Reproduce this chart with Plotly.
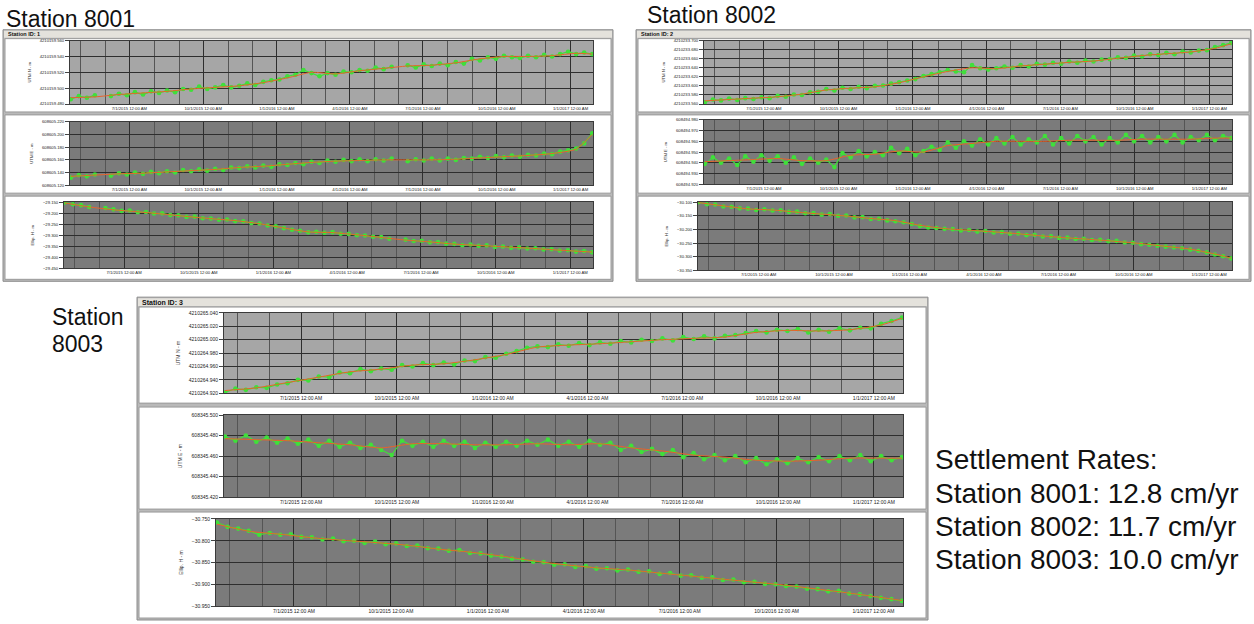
import plotly.graph_objects as go
import pandas as pd

W, H = 1254, 624

# ---------------- data (values in mm relative to panel base) ----------------
DATES = pd.date_range("2015-04-19", periods=66, freq="10D")
TREND_IDX = list(range(0, 66, 3)) + [65]

XTICK_VALS = ["2015-07-01", "2015-10-01", "2016-01-01", "2016-04-01",
              "2016-07-01", "2016-10-01", "2017-01-01"]
XTICK_TEXT = ["7/1/2015 12:00 AM", "10/1/2015 12:00 AM", "1/1/2016 12:00 AM",
              "4/1/2016 12:00 AM", "7/1/2016 12:00 AM", "10/1/2016 12:00 AM",
              "1/1/2017 12:00 AM"]
XRANGE = ["2015-04-18", "2017-01-29"]

# Station 8001
S1N_BASE, S1E_BASE, S1H_BASE = 4210159.480, 608605.120, -29.150
S1N_G = [6,10,8,11,None,10,13,11,15,12, 16,14,17,15,19,18,22,19,21,24,
         21,23,26,24,28,30,31,35,37,43, 39,35,39,37,41,40,43,42,46,44,
         47,None,49,46,50,48,51,49,53,51, 57,55,59,57,61,59,58,61,59,62,
         60,63,66,63,65,63]
S1N_T = [8,9,12,14,16,19,21,23,27,33,40,38,42,45,48,49,52,57,60,60,61,64,63]
S1E_G = [12,16,14,17,None,15,19,17,20,18, 21,19,22,20,24,22,25,23,26,24,
         28,27,30,28,31,29,33,32,35,33, 37,35,39,37,40,38,41,38,41,39,
         42,None,38,41,39,42,39,42,40,43, 42,45,43,46,44,47,45,48,47,50,
         49,53,55,58,66,82]
S1E_T = [14,16,18,19,21,23,25,28,30,33,36,38,39,40,40,40,41,43,45,47,50,57,80]
S1H_G = [-2,-10,-14,-22,None,-27,-33,-40,-38,-46, -45,-52,-51,-59,-60,-67,-66,-73,-74,-80,
         -79,-86,-87,-95,-97,-106,-109,-118,-125,-130, -137,-134,-139,-136,-143,-144,-150,-151,-157,-158,
         -166,None,-170,-176,-175,-182,-181,-188,-189,-195, -192,-198,-196,-203,-201,-207,-205,-210,-209,-214,
         -213,-219,-218,-224,-221,-227]
S1H_T = [-4,-22,-35,-44,-54,-65,-75,-84,-98,-117,-135,-138,-148,-160,-172,-180,-190,-196,-202,-208,-215,-222,-226]

# Station 8002
S2N_BASE, S2E_BASE, S2H_BASE = 4210233.560, 608494.920, -30.100
S2N_G = [4,10,8,12,9,13,11,15,13,18, 16,21,20,26,27,33,30,36,33,38,
         35,40,41,45,48,52,55,62,66,70, 75,72,70,86,79,76,79,83,80,86,
         83,89,87,91,89,94,91,96,94,98, 99,103,102,107,105,110,108,113,110,116,
         114,118,119,126,130,135]
S2N_T = [7,10,13,16,22,31,35,38,47,60,72,80,78,84,88,92,95,101,107,111,115,123,133]
S2E_G = [19,25,20,24,18,26,21,27,22,26, 20,25,19,24,20,23,16,29,25,31,
         26,30,27,34,29,33,27,31,35,32, 39,34,40,36,42,37,43,38,44,37,
         42,39,45,37,43,38,45,40,44,37, 43,39,46,40,45,39,44,40,46,39,
         44,41,46,41,45,43]
S2E_T = [21,22,23,24,22,22,27,28,31,30,36,38,40,40,40,41,41,41,42,42,42,43,43]
S2H_G = [0,-8,-9,-16,-17,-23,-24,-29,-26,-31, -30,-36,-35,-41,-40,-46,-44,-50,-49,-56,
         -55,-62,-61,-67,-70,-74,-80,-88,-93,-95, -98,-99,-104,-102,-108,-106,-111,-110,-116,-115,
         -121,-120,-126,-125,-131,-130,-135,-134,-139,-138, -143,-142,-148,-149,-154,-156,-160,-163,-166,-169,
         -174,-178,-184,-192,-198,-206]
S2H_T = [-2,-14,-25,-29,-37,-44,-51,-60,-68,-85,-97,-103,-109,-116,-124,-131,-137,-144,-152,-162,-172,-190,-205]

# Station 8003
S3N_BASE, S3E_BASE, S3H_BASE = 4210264.920, 608345.420, -30.750
S3N_G = [1,7,5,9,8,13,15,20,19,25, 24,31,30,36,33,37,35,42,40,45,
         42,46,43,49,48,54,53,59,63,68, 70,69,73,71,75,72,76,74,78,76,
         80,78,82,79,84,81,85,82,86,87, 90,93,91,95,93,96,91,95,92,97,
         94,98,97,104,108,113]
S3N_T = [4,8,16,24,32,36,42,44,50,58,69,72,74,77,80,82,84,91,94,93,95,102,112]
S3E_G = [59,55,60,54,58,53,57,52,56,50, 55,49,53,48,51,46,41,55,50,54,
         49,55,50,54,48,53,49,54,50,55, 51,56,50,54,49,55,51,53,46,50,
         44,47,42,46,39,43,37,41,36,40, 34,38,32,37,33,38,34,39,35,40,
         36,41,35,40,36,39]
S3E_T = [57,56,55,53,51,48,52,52,51,51,52,51,52,48,45,41,39,36,35,36,38,38,38]
S3H_G = [-8,-18,-22,-27,-36,-32,-36,-35,-41,-42, -47,-45,-51,-50,-55,-52,-58,-56,-62,-61,
         -67,-68,-73,-71,-78,-79,-84,-86,-91,-93, -98,-99,-105,-104,-110,-108,-114,-113,-118,-116,
         -121,-120,-126,-124,-130,-129,-135,-134,-140,-139, -145,-144,-149,-150,-154,-155,-160,-161,-166,-165,
         -171,-173,-177,-181,-184,-188]
S3H_T = [-12,-28,-35,-43,-49,-54,-60,-69,-76,-85,-96,-105,-112,-117,-124,-131,-138,-145,-152,-161,-170,-180,-187]

RATE_LINES = ["Settlement Rates:", "Station 8001: 12.8 cm/yr",
              "Station 8002: 11.7 cm/yr", "Station 8003: 10.0 cm/yr"]

# ---------------- panel specs -------------
LIGHT, DARK = "#a6a6a6", "#7b7b7b"
PANELS = [
    (S1N_BASE, S1N_G, S1N_T, (0, 80), 20, "UTM N - m", (70, 593, 38, 102), LIGHT, 4.2),
    (S1E_BASE, S1E_G, S1E_T, (0, 100), 20, "UTM E - m", (70, 593, 120, 184), DARK, 4.2),
    (S1H_BASE, S1H_G, S1H_T, (-300, 0), 50, "Ellip. H - m", (64, 593, 201, 268), DARK, 4.2),
    (S2N_BASE, S2N_G, S2N_T, (0, 140), 20, "UTM N - m", (704, 1232, 38, 102), LIGHT, 4.2),
    (S2E_BASE, S2E_G, S2E_T, (0, 60), 10, "UTM E - m", (704, 1232, 118, 183), DARK, 4.2),
    (S2H_BASE, S2H_G, S2H_T, (-250, 0), 50, "Ellip. H - m", (698, 1232, 201, 270), DARK, 4.2),
    (S3N_BASE, S3N_G, S3N_T, (0, 120), 20, "UTM N - m", (224, 903, 313, 394), LIGHT, 5),
    (S3E_BASE, S3E_G, S3E_T, (0, 80), 20, "UTM E - m", (224, 903, 416, 499), DARK, 5),
    (S3H_BASE, S3H_G, S3H_T, (-200, 0), 50, "Ellip. H - m", (216, 903, 521, 609), DARK, 5),
]

FONT = "Arial, Liberation Sans, sans-serif"
GREEN = "#3fe03a"
ORANGE = "#e8632a"


def fx(p):
    return p / W


def fy(p):
    return 1 - p / H


fig = go.Figure()
shapes = []
annotations = []

FRAMES = [
    ((3, 613, 27, 281), 8, [(5, 611, 36, 110), (5, 611, 113, 192), (5, 611, 195, 279)], "Station ID: 1", 5.5),
    ((636, 1251, 27, 281), 8, [(638, 1249, 36, 110), (638, 1249, 113, 192), (638, 1249, 195, 279)], "Station ID: 2", 5.5),
    ((137, 928, 297, 623), 9, [(139, 926, 307, 404), (139, 926, 408, 511), (139, 926, 514, 621)], "Station ID: 3", 7),
]
for (l, r, t, b), hh, boxes, label, fs in FRAMES:
    shapes.append(dict(type="rect", xref="paper", yref="paper", x0=fx(l), x1=fx(r), y0=fy(b), y1=fy(t),
                       fillcolor="#b9b9b9", line=dict(color="#8c8c8c", width=1), layer="below"))
    shapes.append(dict(type="rect", xref="paper", yref="paper", x0=fx(l + 1), x1=fx(r - 1), y0=fy(t + hh), y1=fy(t + 1),
                       fillcolor="#e4e2dc", line=dict(width=0), layer="below"))
    for (bl, br, bt, bb) in boxes:
        shapes.append(dict(type="rect", xref="paper", yref="paper", x0=fx(bl), x1=fx(br), y0=fy(bb), y1=fy(bt),
                           fillcolor="white", line=dict(color="#9a9a9a", width=1), layer="below"))
    annotations.append(dict(text="<b>" + label + "</b>", xref="paper", yref="paper", x=fx(l + 3), y=fy(t + hh / 2 + 0.5),
                            xanchor="left", yanchor="middle", showarrow=False,
                            font=dict(family=FONT, size=fs, color="#111")))

for k, (base, green, trend, (lo, hi), step, ytitle, (L, R, T, B), bg, fs) in enumerate(PANELS, start=1):
    xs = "x" if k == 1 else f"x{k}"
    ys = "y" if k == 1 else f"y{k}"
    shapes.append(dict(type="rect", xref="paper", yref="paper", x0=fx(L), x1=fx(R), y0=fy(B), y1=fy(T),
                       fillcolor=bg, line=dict(width=0), layer="below"))
    gy = [None if v is None else base + v / 1000 for v in green]
    ty = [base + v / 1000 for v in trend]
    tx = [DATES[i] for i in TREND_IDX]
    fig.add_trace(go.Scatter(x=DATES, y=gy, mode="lines+markers", xaxis=xs, yaxis=ys,
                             line=dict(color=GREEN, width=1.2), marker=dict(size=4.6, color=GREEN),
                             connectgaps=False, showlegend=False, hoverinfo="skip"))
    fig.add_trace(go.Scatter(x=tx, y=ty, mode="lines", xaxis=xs, yaxis=ys,
                             line=dict(color=ORANGE, width=1.0, shape="spline", smoothing=0.6),
                             showlegend=False, hoverinfo="skip"))
    xa = dict(domain=[fx(L), fx(R)], anchor=ys, type="date", range=XRANGE,
              tickmode="array", tickvals=XTICK_VALS, ticktext=XTICK_TEXT,
              tickfont=dict(family=FONT, size=fs, color="#222"), ticks="", ticklen=2,
              showgrid=True, gridcolor="#2e2e2e", gridwidth=1.3,
              minor=dict(tickmode="linear", tick0="2015-01-01", dtick="M1", showgrid=True,
                         gridcolor="#555555", gridwidth=0.8, ticks=""),
              showline=True, linecolor="#3a3a3a", linewidth=1, mirror=True, zeroline=False, fixedrange=True)
    ya = dict(domain=[fy(B), fy(T)], anchor=xs, range=[base + lo / 1000, base + hi / 1000],
              tick0=base + lo / 1000, dtick=step / 1000, tickformat=".3f",
              tickfont=dict(family=FONT, size=fs, color="#222"), ticks="outside", ticklen=4,
              tickcolor="#444", showgrid=True, gridcolor="#2e2e2e", gridwidth=1,
              showline=True, linecolor="#3a3a3a", linewidth=1, mirror=True, zeroline=False,
              title=dict(text=ytitle, font=dict(family=FONT, size=fs, color="#333"), standoff=8),
              fixedrange=True)
    fig.layout["xaxis" if k == 1 else f"xaxis{k}"] = xa
    fig.layout["yaxis" if k == 1 else f"yaxis{k}"] = ya

BIG = [("Station 8001", 4, 16), ("Station 8002", 645, 12), ("Station", 50, 317), ("8003", 50, 344)]
for txt, x, y in BIG:
    annotations.append(dict(text=txt, xref="paper", yref="paper", x=fx(x), y=fy(y), xanchor="left",
                            yanchor="middle", showarrow=False, font=dict(family=FONT, size=23, color="#111")))
for j, txt in enumerate(RATE_LINES):
    annotations.append(dict(text=txt, xref="paper", yref="paper", x=fx(933), y=fy(461 + 33.8 * j), xanchor="left",
                            yanchor="middle", showarrow=False, font=dict(family=FONT, size=28, color="#111")))

fig.update_layout(width=W, height=H, margin=dict(l=0, r=0, t=0, b=0),
                  paper_bgcolor="white", plot_bgcolor="rgba(0,0,0,0)",
                  shapes=shapes, annotations=annotations, showlegend=False)
fig.write_html("out.html", config={"displayModeBar": False})
